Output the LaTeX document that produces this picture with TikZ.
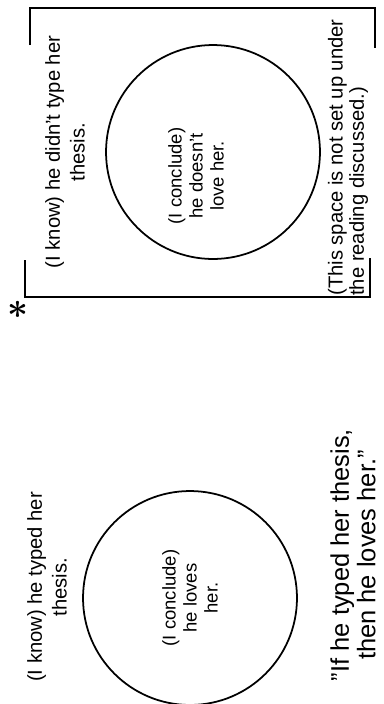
\documentclass[tikz,border=0pt]{standalone}
\usepackage{fontspec}
\setmainfont{Liberation Sans}
\setsansfont{Liberation Sans}
\usetikzlibrary{positioning}

\begin{document}
\begin{tikzpicture}[
  x=0.02cm, y=-0.02cm,
  font=\sffamily,
  ring/.style={draw,circle,line width=1pt,minimum size=4.28cm,inner sep=0pt},
  know/.style={rotate=90,align=center,inner sep=0pt,font=\fontsize{11.5}{14}\selectfont},
  conclude/.style={rotate=90,align=center,inner sep=0pt,font=\fontsize{10.5}{12}\selectfont},
  note/.style={rotate=90,align=left,inner sep=0pt,font=\fontsize{11.5}{12}\selectfont},
  edge/.style={line width=1pt}
]
\useasboundingbox (0,0) rectangle (383,704);

% space that is not set up
\draw[edge] (30,45) -- (30,8) -- (375,8) -- (375,48);
\draw[edge] (25,260) -- (25,297) -- (370,297) -- (370,258);
\node[font=\fontsize{22}{22}\selectfont\boldmath] (star) at (18,310) {$\ast$};

\node[ring] (c1) at (213,152) {};
\node[know] (k1) at (65,152) {(I know) he didn't type her\\thesis.};
\node[conclude] (i1) at (196,176) {(I conclude)\\he doesn't\\love her.};
\node[note,anchor=west] (n1) at (348,296) {(This space is not set up under\\the reading discussed.)};

% space that is set up
\node[ring] (c2) at (190,598) {};
\node[know] (k2) at (47,587) {(I know) he typed her\\thesis.};
\node[conclude] (i2) at (190,598) {(I conclude)\\he loves\\her.};
\node[rotate=90,align=center,inner sep=0pt,font=\fontsize{14.5}{15}\selectfont] (q) at (353,555)
  {\symbol{34}If he typed her thesis,\\then he loves her.\symbol{34}};
\end{tikzpicture}
\end{document}
